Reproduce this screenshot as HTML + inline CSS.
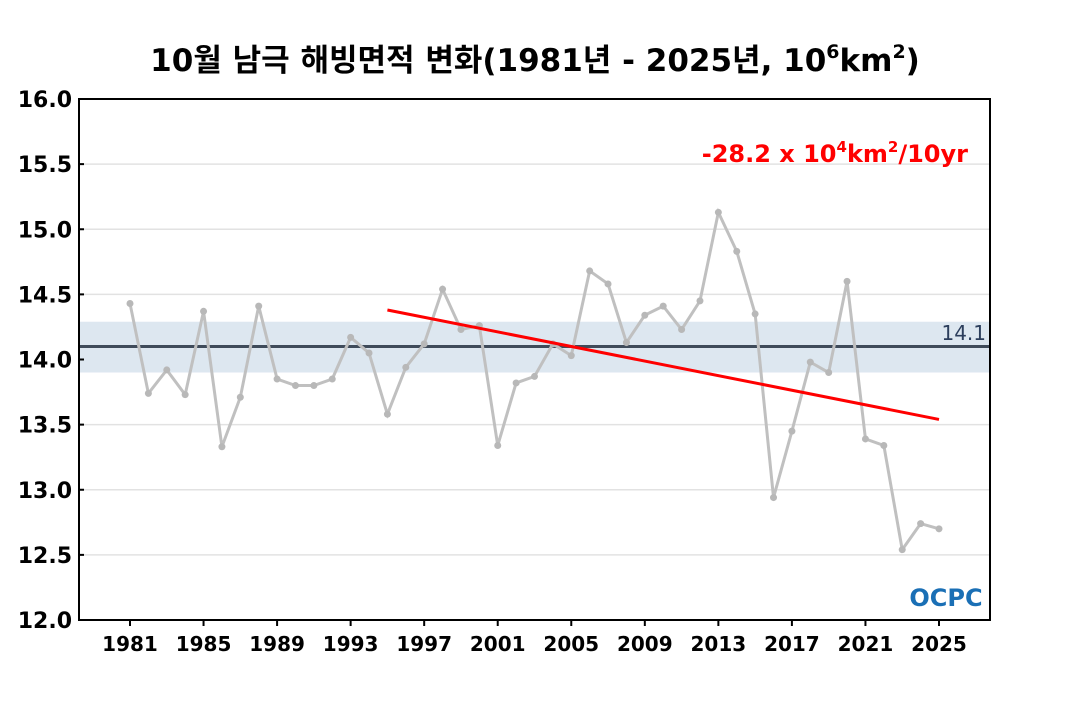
<!DOCTYPE html>
<html><head><meta charset="utf-8"><style>
body{margin:0;background:#fff;width:1070px;height:700px;overflow:hidden;font-family:"DejaVu Sans","Noto Sans CJK KR",sans-serif}
svg text{font-family:"DejaVu Sans","Noto Sans CJK KR",sans-serif}
</style></head><body>
<svg id="c" width="1070" height="700" xmlns="http://www.w3.org/2000/svg">
<text x="535" y="71" text-anchor="middle" font-size="31" font-weight="bold">10월 남극 해빙면적 변화(1981년 - 2025년, 10<tspan dy="-13" font-size="19">6</tspan><tspan dy="13">km</tspan><tspan dy="-13" font-size="19">2</tspan><tspan dy="13">)</tspan></text>
<g id="grid"></g><g id="band"></g><g id="marks"></g><g id="axes"></g>
<text x="968" y="162" text-anchor="end" fill="#ff0000" font-size="24" font-weight="bold">-28.2 x 10<tspan dy="-10" font-size="15">4</tspan><tspan dy="10">km</tspan><tspan dy="-10" font-size="15">2</tspan><tspan dy="10">/10yr</tspan></text>
<text x="986" y="340" text-anchor="end" fill="#2c3e5c" font-size="20">14.1</text>
<text x="946" y="606" text-anchor="middle" fill="#1a6fb5" font-size="24" font-weight="bold">OCPC</text>
</svg>
<script>
const years=[1981,1982,1983,1984,1985,1986,1987,1988,1989,1990,1991,1992,1993,1994,1995,1996,1997,1998,1999,2000,2001,2002,2003,2004,2005,2006,2007,2008,2009,2010,2011,2012,2013,2014,2015,2016,2017,2018,2019,2020,2021,2022,2023,2024,2025];
const values=[14.43,13.74,13.92,13.73,14.37,13.33,13.71,14.41,13.85,13.80,13.80,13.85,14.17,14.05,13.58,13.94,14.12,14.54,14.23,14.26,13.34,13.82,13.87,14.12,14.03,14.68,14.58,14.13,14.34,14.41,14.23,14.45,15.13,14.83,14.35,12.94,13.45,13.98,13.90,14.60,13.39,13.34,12.54,12.74,12.70];
const yTicks=[12.0,12.5,13.0,13.5,14.0,14.5,15.0,15.5,16.0];
const xTicks=[1981,1985,1989,1993,1997,2001,2005,2009,2013,2017,2021,2025];
const meanVal=14.1, bandLo=13.9, bandHi=14.29;
const trendYears=[1995,2025], trendVals=[14.38,13.54];
const L=79,R=990,T=99,B=620;
const X=y=>130+(y-1981)*(939-130)/44;
const Y=v=>B-(v-12)*(B-T)/4;
const ns='http://www.w3.org/2000/svg';
function mk(p,t,a){const e=document.createElementNS(ns,t);for(const k in a)e.setAttribute(k,a[k]);document.getElementById(p).appendChild(e);return e;}
yTicks.forEach(v=>{if(v>12&&v<16){const g=mk('grid','line',{x1:L,x2:R,y1:Y(v),y2:Y(v),stroke:'#e2e2e2','stroke-width':1.5});

}
const t=mk('axes','text',{x:72,y:Y(v)+8,'text-anchor':'end','font-size':22,'font-weight':'bold'});t.textContent=v.toFixed(1);


mk('axes','line',{x1:L,x2:L+5,y1:Y(v),y2:Y(v),stroke:'#000','stroke-width':2});});
xTicks.forEach(y=>{const t=mk('axes','text',{x:X(y),y:651,'text-anchor':'middle','font-size':20,'font-weight':'bold'});t.textContent=y;


mk('axes','line',{x1:X(y),x2:X(y),y1:B,y2:B+6,stroke:'#000','stroke-width':2});});
const bd=mk('band','rect',{x:L,y:Y(bandHi),width:R-L,height:Y(bandLo)-Y(bandHi),fill:'#dde7f0'});


const ml=mk('band','line',{x1:L,x2:R,y1:Y(meanVal),y2:Y(meanVal),stroke:'#3f4b5a','stroke-width':3});


const pl=mk('marks','polyline',{points:years.map((y,i)=>X(y)+','+Y(values[i])).join(' '),fill:'none',stroke:'#c0c0c0','stroke-width':3});


years.forEach((y,i)=>{const c=mk('marks','circle',{cx:X(y),cy:Y(values[i]),r:3.5,fill:'#b8b8b8'});

});
const tl=mk('marks','line',{x1:X(trendYears[0]),y1:Y(trendVals[0]),x2:X(trendYears[1]),y2:Y(trendVals[1]),stroke:'#ff0000','stroke-width':3});


const fr=mk('axes','rect',{x:L,y:T,width:R-L,height:B-T,fill:'none',stroke:'#000','stroke-width':2});


</script>
</body></html>
